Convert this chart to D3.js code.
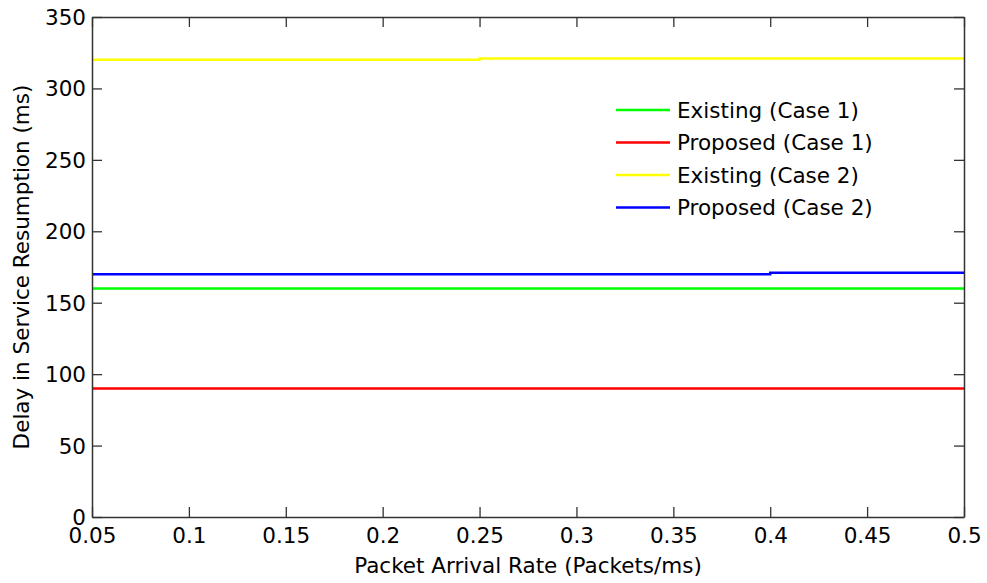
<!DOCTYPE html>
<html>
<head>
<meta charset="utf-8">
<script src="https://d3js.org/d3.v7.min.js"></script>
<style>
  body { margin: 0; background: #fff; }
  svg text { font-family: "DejaVu Sans", "Liberation Sans", Arial, sans-serif; fill: #000; }
</style>
</head>
<body>
<svg width="987" height="583"></svg>
<script>
var rates = [0.05, 0.1, 0.15, 0.2, 0.25, 0.3, 0.35, 0.4, 0.45, 0.5];
var existing1 = [160, 160, 160, 160, 160, 160, 160, 160, 160, 160];
var proposed1 = [90, 90, 90, 90, 90, 90, 90, 90, 90, 90];
var existing2 = [320, 320, 320, 320, 321, 321, 321, 321, 321, 321];
var proposed2 = [170, 170, 170, 170, 170, 170, 170, 171, 171, 171];
var seriesNames = ["Existing (Case 1)", "Proposed (Case 1)", "Existing (Case 2)", "Proposed (Case 2)"];
var seriesColors = ["#00ff00", "#ff0000", "#ffff00", "#0000ff"];
var xTicks = [0.05, 0.1, 0.15, 0.2, 0.25, 0.3, 0.35, 0.4, 0.45, 0.5];
var yTicks = [0, 50, 100, 150, 200, 250, 300, 350];

var svg = d3.select("svg"),
  plotLeft = 92, plotRight = 964, plotTop = 17, plotBottom = 517,
  fontSize = 21.5;

var x = d3.scaleLinear().domain([0.05, 0.5]).range([plotLeft, plotRight]);
var y = d3.scaleLinear().domain([0, 350]).range([plotBottom, plotTop]);

var allSeries = [existing1, proposed1, existing2, proposed2];

// series lines (step after so the jump sits at the new x)
var line = d3.line()
  .x(function (d, i) { return x(rates[i]); })
  .y(function (d) { return y(d); })
  .curve(d3.curveStepAfter);

svg.append("g")
  .selectAll("path")
  .data(allSeries)
  .enter()
  .append("path")
  .attr("fill", "none")
  .attr("stroke-width", 2.5)
  .attr("stroke", function (d, i) { return seriesColors[i]; })
  .attr("d", line);

// axes: box with inward ticks on all sides
var fmt = function (d) { return String(d); };
var axisColor = "#333";

var bottomAxis = svg.append("g")
  .attr("transform", "translate(0," + plotBottom + ")")
  .call(d3.axisBottom(x).tickValues(xTicks).tickSizeInner(-10).tickSizeOuter(0).tickPadding(11).tickFormat(fmt));
var topAxis = svg.append("g")
  .attr("transform", "translate(0," + plotTop + ")")
  .call(d3.axisTop(x).tickValues(xTicks).tickSizeInner(-10).tickSizeOuter(0).tickFormat(""));
var leftAxis = svg.append("g")
  .attr("transform", "translate(" + plotLeft + ",0)")
  .call(d3.axisLeft(y).tickValues(yTicks).tickSizeInner(-10).tickSizeOuter(0).tickPadding(6).tickFormat(fmt));
var rightAxis = svg.append("g")
  .attr("transform", "translate(" + plotRight + ",0)")
  .call(d3.axisRight(y).tickValues(yTicks).tickSizeInner(-10).tickSizeOuter(0).tickFormat(""));

[bottomAxis, topAxis, leftAxis, rightAxis].forEach(function (a) {
  a.select(".domain").attr("stroke", axisColor).attr("stroke-width", 1.5);
  a.selectAll(".tick line").attr("stroke", axisColor).attr("stroke-width", 1.3);
  a.selectAll("text").attr("font-size", fontSize).attr("font-family", null).attr("fill", "#000");
});
leftAxis.selectAll("text").attr("dy", "0.35em");

// axis titles
svg.append("text")
  .attr("x", (plotLeft + plotRight) / 2)
  .attr("y", 573)
  .attr("text-anchor", "middle")
  .attr("font-size", fontSize)
  .text("Packet Arrival Rate (Packets/ms)");

svg.append("text")
  .attr("transform", "translate(29," + (plotTop + plotBottom) / 2 + ") rotate(-90)")
  .attr("text-anchor", "middle")
  .attr("font-size", fontSize)
  .text("Delay in Service Resumption (ms)");

// legend
var legend = svg.append("g")
  .selectAll("g")
  .data(seriesNames)
  .enter()
  .append("g")
  .attr("transform", function (d, i) { return "translate(616," + (110 + i * 32.5) + ")"; });

legend.append("line")
  .attr("x1", 0).attr("x2", 54)
  .attr("stroke-width", 2.5)
  .attr("stroke", function (d, i) { return seriesColors[i]; });

legend.append("text")
  .attr("x", 61)
  .attr("dy", "0.35em")
  .attr("font-size", fontSize)
  .text(function (d) { return d; });
</script>
</body>
</html>
